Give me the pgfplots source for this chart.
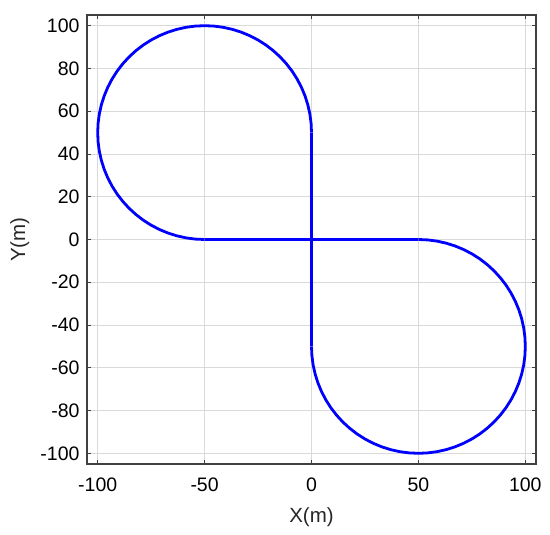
\documentclass[border=0pt]{standalone}
\usepackage{fontspec}
\setmainfont{Liberation Sans}
\usepackage{pgfplots}
\pgfplotsset{compat=1.18}

\begin{document}
\begin{tikzpicture}
\begin{axis}[
  name=ax,
  scale only axis,
  width=449pt, height=449pt,
  xmin=-105, xmax=105, ymin=-105, ymax=105,
  xtick={-100,-50,0,50,100},
  ytick={-100,-80,-60,-40,-20,0,20,40,60,80,100},
  tick align=inside,
  major tick length=4pt,
  tick style={black!75, line width=0.8pt},
  axis line style={black!75, line width=1.3pt},
  grid=major, grid style={line width=0.6pt, black!15},
  xlabel={X(m)}, ylabel={Y(m)},
  xlabel style={at={(0.5,0)}, yshift=-40pt, anchor=north},
  ylabel style={at={(0,0.5)}, yshift=54pt, anchor=south},
  label style={font=\fontsize{20.5}{24}\selectfont, text=black!85},
  tick label style={font=\fontsize{19.5}{23}\selectfont, text=black},
  /pgf/number format/assume math mode=true,
  xticklabel style={yshift=-10pt},
  yticklabel style={xshift=-4pt},
]
% vertical and horizontal straight segments
\addplot[blue, no markers, line width=2.8pt] coordinates {(0,50) (0,-50)};
\addplot[blue, no markers, line width=2.8pt] coordinates {(-50,0) (50,0)};
% upper-left loop, centre (-50,50), r=50
\addplot[blue, no markers, line width=2.8pt, line join=round] coordinates {
(0,50) (-0.190,54.358) (-0.760,58.682) (-1.704,62.941) (-3.015,67.101)
(-4.685,71.131) (-6.699,75) (-9.042,78.679) (-11.698,82.139) (-14.645,85.355)
(-17.861,88.302) (-21.321,90.958) (-25,93.301) (-28.869,95.315) (-32.899,96.985)
(-37.059,98.296) (-41.318,99.240) (-45.642,99.810) (-50,100)
(-54.358,99.810) (-58.682,99.240) (-62.941,98.296) (-67.101,96.985) (-71.131,95.315)
(-75,93.301) (-78.679,90.958) (-82.139,88.302) (-85.355,85.355) (-88.302,82.139)
(-90.958,78.679) (-93.301,75) (-95.315,71.131) (-96.985,67.101) (-98.296,62.941)
(-99.240,58.682) (-99.810,54.358) (-100,50)
(-99.810,45.642) (-99.240,41.318) (-98.296,37.059) (-96.985,32.899) (-95.315,28.869)
(-93.301,25) (-90.958,21.321) (-88.302,17.861) (-85.355,14.645) (-82.139,11.698)
(-78.679,9.042) (-75,6.699) (-71.131,4.685) (-67.101,3.015) (-62.941,1.704)
(-58.682,0.760) (-54.358,0.190) (-50,0)
};
% lower-right loop, centre (50,-50), r=50
\addplot[blue, no markers, line width=2.8pt, line join=round] coordinates {
(0,-50) (0.190,-54.358) (0.760,-58.682) (1.704,-62.941) (3.015,-67.101)
(4.685,-71.131) (6.699,-75) (9.042,-78.679) (11.698,-82.139) (14.645,-85.355)
(17.861,-88.302) (21.321,-90.958) (25,-93.301) (28.869,-95.315) (32.899,-96.985)
(37.059,-98.296) (41.318,-99.240) (45.642,-99.810) (50,-100)
(54.358,-99.810) (58.682,-99.240) (62.941,-98.296) (67.101,-96.985) (71.131,-95.315)
(75,-93.301) (78.679,-90.958) (82.139,-88.302) (85.355,-85.355) (88.302,-82.139)
(90.958,-78.679) (93.301,-75) (95.315,-71.131) (96.985,-67.101) (98.296,-62.941)
(99.240,-58.682) (99.810,-54.358) (100,-50)
(99.810,-45.642) (99.240,-41.318) (98.296,-37.059) (96.985,-32.899) (95.315,-28.869)
(93.301,-25) (90.958,-21.321) (88.302,-17.861) (85.355,-14.645) (82.139,-11.698)
(78.679,-9.042) (75,-6.699) (71.131,-4.685) (67.101,-3.015) (62.941,-1.704)
(58.682,-0.760) (54.358,-0.190) (50,0)
};
\end{axis}
\path[use as bounding box] ([xshift=-87pt,yshift=-70pt]ax.south west)
  rectangle ([xshift=14pt,yshift=15pt]ax.north east);
\end{tikzpicture}
\end{document}
